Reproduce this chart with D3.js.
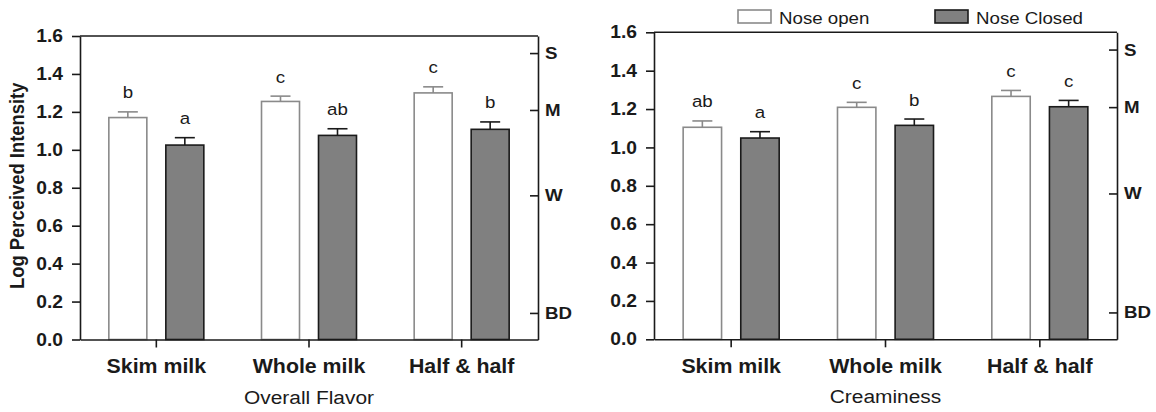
<!DOCTYPE html>
<html>
<head>
<meta charset="utf-8">
<script src="https://cdn.jsdelivr.net/npm/d3@7"></script>
<style>
  body { margin: 0; background: #fff; }
  svg { display: block; font-family: "Liberation Sans", Arial, sans-serif; }
</style>
</head>
<body>
<div id="chart"></div>
<script>
const categories = ["Skim milk", "Whole milk", "Half & half"];
const series = ["Nose open", "Nose Closed"];
const yTicks = [0, 0.2, 0.4, 0.6, 0.8, 1.0, 1.2, 1.4, 1.6];
const scaleTicks = [1.51, 1.21, 0.76, 0.14];
const scaleLabels = ["S", "M", "W", "BD"];

const flavorOpen = [1.17, 1.255, 1.30];
const flavorOpenSE = [0.03, 0.028, 0.032];
const flavorClosed = [1.025, 1.076, 1.108];
const flavorClosedSE = [0.039, 0.035, 0.039];
const flavorOpenLetters = ["b", "c", "c"];
const flavorClosedLetters = ["a", "ab", "b"];

const creamOpen = [1.105, 1.209, 1.266];
const creamOpenSE = [0.033, 0.026, 0.031];
const creamClosed = [1.049, 1.115, 1.212];
const creamClosedSE = [0.033, 0.033, 0.033];
const creamOpenLetters = ["ab", "c", "c"];
const creamClosedLetters = ["a", "b", "c"];

const width = 1156, height = 412;
const sx = 1.1; // the figure is a bit stretched sideways
const ink = "#1a1a1a";

const panels = [
  { left: 80, right: 538, top: 36, bottom: 339.5, title: "Overall Flavor",
    open: flavorOpen, openSE: flavorOpenSE, closed: flavorClosed, closedSE: flavorClosedSE,
    openL: flavorOpenLetters, closedL: flavorClosedLetters },
  { left: 654, right: 1117, top: 32.3, bottom: 339.3, title: "Creaminess",
    open: creamOpen, openSE: creamOpenSE, closed: creamClosed, closedSE: creamClosedSE,
    openL: creamOpenLetters, closedL: creamClosedLetters }
];

const svg = d3.select("#chart")
  .append("svg")
  .attr("width", width)
  .attr("height", height);

const styles = {
  "Nose open": { fill: "#fff", stroke: "#8a8a8a", err: "#8a8a8a" },
  "Nose Closed": { fill: "#808080", stroke: ink, err: ink }
};

panels.forEach((p, pi) => {
  const g = svg.append("g");

  let y = d3.scaleLinear()
    .domain([0, 1.6])
    .range([p.bottom, p.top]);

  let x = d3.scaleBand()
    .domain(categories)
    .range([p.left, p.right]);

  let xs = d3.scaleBand()
    .domain(series)
    .range([0, x.bandwidth()])
    .paddingInner(1 / 3)
    .paddingOuter(0.506);

  const rows = [];
  categories.forEach((c, i) => {
    rows.push({ c, s: "Nose open", v: p.open[i], se: p.openSE[i], l: p.openL[i] });
    rows.push({ c, s: "Nose Closed", v: p.closed[i], se: p.closedSE[i], l: p.closedL[i] });
  });

  const cx = d => x(d.c) + xs(d.s) + xs.bandwidth() / 2;

  const bar = g.selectAll(".bar")
    .data(rows)
    .join("g")
    .attr("class", "bar");

  bar.append("line")
    .attr("x1", cx)
    .attr("x2", cx)
    .attr("y1", d => y(d.v))
    .attr("y2", d => y(d.v + d.se))
    .attr("stroke", d => styles[d.s].err)
    .attr("stroke-width", 1.6);

  bar.append("line")
    .attr("x1", d => cx(d) - 10)
    .attr("x2", d => cx(d) + 10)
    .attr("y1", d => y(d.v + d.se))
    .attr("y2", d => y(d.v + d.se))
    .attr("stroke", d => styles[d.s].err)
    .attr("stroke-width", 1.6);

  bar.append("rect")
    .attr("x", d => x(d.c) + xs(d.s))
    .attr("width", xs.bandwidth())
    .attr("y", d => y(d.v))
    .attr("height", d => y(0) - y(d.v))
    .attr("fill", d => styles[d.s].fill)
    .attr("stroke", d => styles[d.s].stroke)
    .attr("stroke-width", 1.6);

  bar.append("text")
    .text(d => d.l)
    .attr("transform", d => `translate(${cx(d)},${y(d.v + d.se) - 13.5}) scale(${sx},1)`)
    .attr("text-anchor", "middle")
    .attr("font-size", 17)
    .attr("fill", ink);

  // top border
  g.append("line")
    .attr("x1", p.left).attr("x2", p.right)
    .attr("y1", p.top).attr("y2", p.top)
    .attr("stroke", ink).attr("stroke-width", 1.6);

  let yAxis = g => g
    .attr("transform", `translate(${p.left},0)`)
    .call(d3.axisLeft(y).tickValues(yTicks).tickFormat(d3.format(".1f")).tickSize(8).tickSizeOuter(0).tickPadding(9))
    .call(g => g.selectAll("path, line").attr("stroke", ink).attr("stroke-width", 1.6))
    .call(g => g.selectAll("text")
      .attr("font-size", 17.5).attr("font-weight", "bold").attr("fill", ink));

  let rAxis = g => g
    .attr("transform", `translate(${p.right},0)`)
    .call(d3.axisRight(y).tickValues(scaleTicks).tickFormat((d, i) => scaleLabels[i]).tickSizeInner(-8).tickSizeOuter(0).tickPadding(7))
    .call(g => g.selectAll("path, line").attr("stroke", ink).attr("stroke-width", 1.6))
    .call(g => g.selectAll("text")
      .attr("font-size", 17).attr("font-weight", "bold").attr("fill", ink));

  let xAxis = g => g
    .attr("transform", `translate(0,${p.bottom})`)
    .call(d3.axisBottom(x).tickSize(8).tickSizeOuter(0).tickPadding(12))
    .call(g => g.selectAll("path, line").attr("stroke", ink).attr("stroke-width", 1.6))
    .call(g => g.selectAll(".tick text")
      .attr("font-size", 19.4).attr("font-weight", "bold").attr("fill", ink));

  g.append("g").attr("font-family", null).call(yAxis);
  g.append("g").attr("font-family", null).call(rAxis);
  g.append("g").attr("font-family", null).call(xAxis);

  // stretch tick labels sideways, keeping their anchor point
  g.selectAll(".tick text").each(function() {
    const t = d3.select(this);
    const xa = +t.attr("x") || 0;
    t.attr("x", xa / sx).attr("transform", `scale(${sx},1)`);
  });

  g.append("text")
    .text(p.title)
    .attr("transform", `translate(${(p.left + p.right) / 2},${p.bottom + 64}) scale(${sx},1)`)
    .attr("text-anchor", "middle")
    .attr("font-size", 19)
    .attr("fill", ink);

  if (pi === 0) {
    g.append("text")
      .text("Log Perceived Intensity")
      .attr("transform", `translate(24,${(p.top + p.bottom) / 2 - 2}) scale(${sx},1) rotate(-90)`)
      .attr("text-anchor", "middle")
      .attr("font-size", 18.4)
      .attr("font-weight", "bold")
      .attr("fill", ink);
  }
});

// legend
const legendX = [738, 935];
const legend = svg.selectAll(".legend")
  .data(series)
  .join("g")
  .attr("class", "legend")
  .attr("transform", (d, i) => `translate(${legendX[i]},10)`);

legend.append("rect")
  .attr("width", 33)
  .attr("height", 13)
  .attr("fill", d => styles[d].fill)
  .attr("stroke", d => styles[d].stroke)
  .attr("stroke-width", 1.6);

legend.append("text")
  .text(d => d)
  .attr("transform", `translate(41,13.5) scale(${sx},1)`)
  .attr("font-size", 17)
  .attr("fill", ink);
</script>
</body>
</html>
